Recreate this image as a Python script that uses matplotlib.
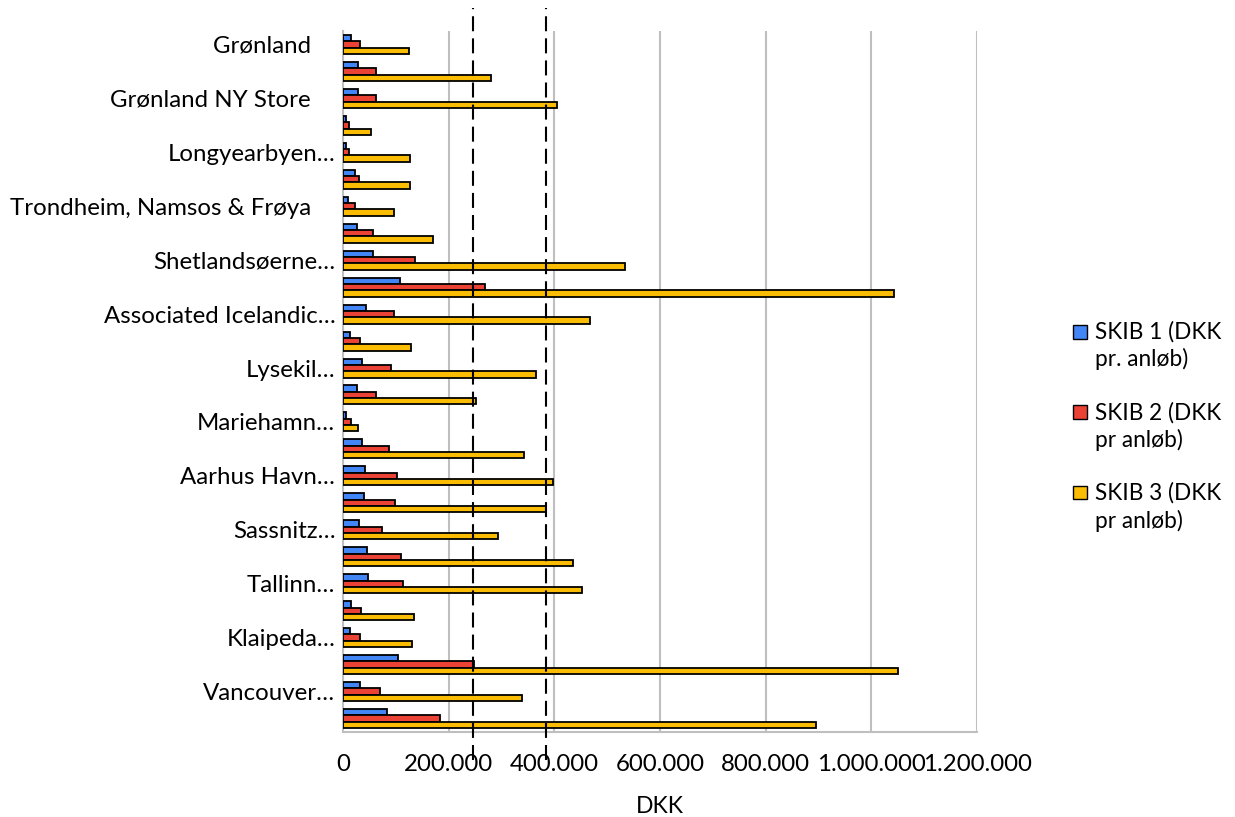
import matplotlib
matplotlib.use("Agg")
import matplotlib.pyplot as plt
import numpy as np
from matplotlib.patches import Rectangle
from matplotlib.ticker import FuncFormatter

categories = ["Grønland", "", "Grønland NY Store", "", "Longyearbyen…", "",
              "Trondheim, Namsos & Frøya", "", "Shetlandsøerne…", "",
              "Associated Icelandic…", "", "Lysekil…", "", "Mariehamn…", "",
              "Aarhus Havn…", "", "Sassnitz…", "", "Tallinn…", "", "Klaipeda…", "",
              "Vancouver…", ""]
skib1 = [14500, 28000, 28000, 5000, 5000, 23000, 9500, 26500, 56000, 108500,
         43000, 13000, 36600, 26000, 6000, 36000, 41000, 40000, 31000, 45500,
         47000, 14500, 13000, 104000, 31600, 83000]
skib2 = [33000, 63000, 63000, 11000, 12000, 30000, 23000, 56000, 136000, 269000,
         97000, 32000, 90000, 63000, 16000, 88000, 102000, 98500, 73000, 110000,
         114000, 34000, 33000, 247500, 70000, 184000]
skib3 = [124000, 280000, 405000, 53000, 126000, 127000, 97000, 170000, 533000, 1042000,
         468000, 128000, 365000, 252000, 28500, 343000, 398000, 384000, 293000, 436000,
         452000, 134500, 131000, 1050000, 338000, 896000]
series_labels = ["SKIB 1 (DKK\npr. anløb)", "SKIB 2 (DKK\npr anløb)", "SKIB 3 (DKK\npr anløb)"]
colors = ["#4285F4", "#EA4335", "#FBBC04"]
ref_lines = [246000, 384000]
xticks = [0, 200000, 400000, 600000, 800000, 1000000, 1200000]

plt.rcParams['font.family'] = ['Lato', 'DejaVu Sans']
W, H = 1235, 817

fig = plt.figure(figsize=(W / 100, H / 100), dpi=100)
ax = fig.add_axes([343 / W, 1 - 732 / H, (977 - 343) / W, (732 - 31) / H])

y = np.arange(len(categories))
h = 0.235
for i, (vals, c) in enumerate(zip([skib1, skib2, skib3], colors)):
    ax.barh(y + (i - 1) * h, vals, height=h, color=c, edgecolor="black",
            linewidth=1.3, zorder=3)

ax.set_ylim(len(categories) - 0.5, -0.5)
ax.set_xlim(0, 1200000)
ax.set_xticks(xticks)
ax.xaxis.set_major_formatter(FuncFormatter(
    lambda v, p: "0" if v == 0 else f"{int(v):,}".replace(",", ".")))
ax.set_yticks(y[::2])
ax.set_yticklabels([categories[i] if categories[i].endswith("…") else categories[i] + "    "
                    for i in y[::2]])
ax.tick_params(axis='y', length=0, pad=5.5, labelsize=17.3)
ax.tick_params(axis='x', length=0, pad=16, labelsize=17.3)
ax.grid(axis='x', color="#bfbfbf", linewidth=1.5, zorder=0)
for s in ["top", "right"]:
    ax.spines[s].set_visible(False)
for s in ["left", "bottom"]:
    ax.spines[s].set_color("#bfbfbf")
    ax.spines[s].set_linewidth(1.5)

for v in ref_lines:
    ax.axvline(v, ymin=-0.04, ymax=1.033, color="black", linewidth=1.5,
               linestyle=(0, (7.2, 3.4)), clip_on=False, zorder=5)

fig.text(660 / W, 1 - 813 / H, "DKK", ha="center", va="baseline", fontsize=16.5)

# legend
for k, (lab, c) in enumerate(zip(series_labels, colors)):
    base = 339 + k * 80.5
    fig.add_artist(Rectangle((1072.5 / W, 1 - (base - 0.5) / H), 14 / W, 13.5 / H,
                             transform=fig.transFigure, facecolor=c,
                             edgecolor="black", linewidth=1.0))
    for j, line in enumerate(lab.split("\n")):
        fig.text(1095 / W, 1 - (base + j * 27.5) / H, line, ha="left",
                 va="baseline", fontsize=16.3)

fig.savefig("out.png", dpi=100)
